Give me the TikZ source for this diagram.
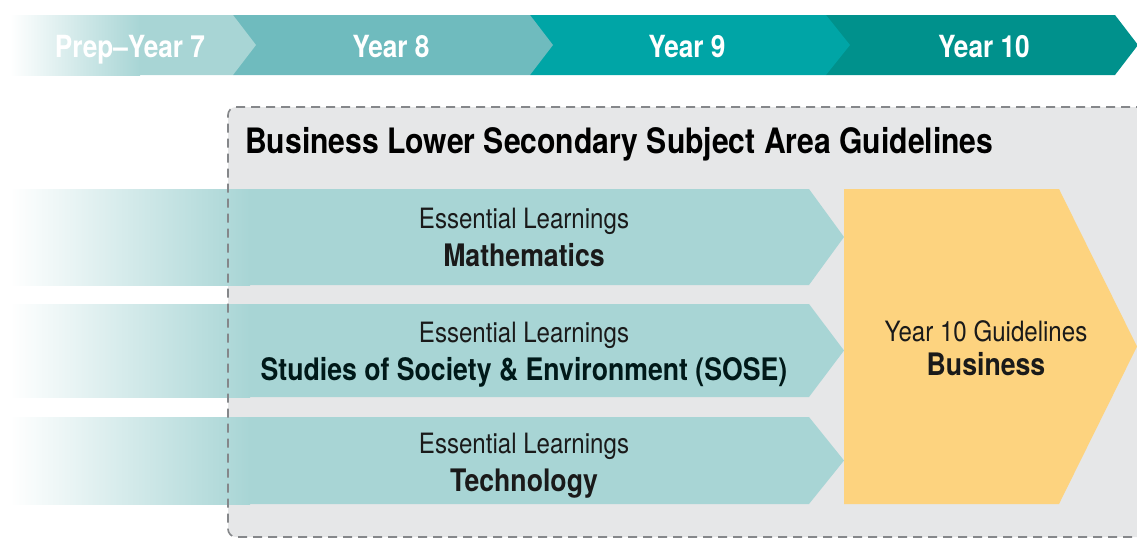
\documentclass[tikz,border=0pt]{standalone}
\usepackage{fontspec}
\setmainfont{TeX Gyre Heros}[FakeStretch=0.86]
\definecolor{tealA}{HTML}{A8D5D5}
\definecolor{tealB}{HTML}{6FBBBE}
\definecolor{tealC}{HTML}{00A5A6}
\definecolor{tealD}{HTML}{00918C}
\definecolor{boxgray}{HTML}{E6E7E8}
\definecolor{dashgray}{HTML}{85878A}
\definecolor{gold}{HTML}{FDD37F}
\definecolor{ink}{HTML}{1A1A1A}
\begin{document}
\begin{tikzpicture}[x=1pt,y=-1pt,
  hdr/.style={anchor=base,text=white,font=\fontsize{30.5}{36}\selectfont\bfseries,inner sep=0pt},
  eltext/.style={anchor=base,text=ink,font=\fontsize{28}{34}\selectfont,inner sep=0pt},
  subjtext/.style={anchor=base,text=ink,font=\fontsize{31}{36}\selectfont\bfseries,inner sep=0pt},
  titletext/.style={anchor=base west,text=black,font=\fontsize{35}{40}\selectfont\bfseries,inner sep=0pt},
  fadebar/.style={left color=white,right color=tealA},
]
\useasboundingbox (0,0) rectangle (1137,539);

% timeline band, drawn from the right so each chevron overlaps the next one
\fill[tealD] (826,15) -- (1115,15) -- (1138,45) -- (1115,75) -- (826,75) -- cycle;
\fill[tealC] (530,15) -- (826,15) -- (850,45) -- (826,75) -- (530,75) -- cycle;
\fill[tealB] (233,15) -- (530,15) -- (553,45) -- (530,75) -- (233,75) -- cycle;
\shade[fadebar] (10,15) rectangle (140,75);
\fill[tealA] (139.5,15) -- (233,15) -- (256,45) -- (233,75) -- (139.5,75) -- cycle;

\node[hdr] (prep) at (130,57) {Prep–Year 7};
\node[hdr] (y8)   at (391,57) {Year 8};
\node[hdr] (y9)   at (687,57) {Year 9};
\node[hdr] (y10)  at (984,57) {Year 10};

% grey guideline panel
\fill[boxgray, rounded corners=8pt] (1160,107) -- (228,107) -- (228,537) -- (1160,537) -- cycle;

\node[titletext] (title) at (245,153) {Business Lower Secondary Subject Area Guidelines};

% essential learnings bands
\foreach \t/\b/\m in {189/285/237, 304/397/350.5, 417/504/460.5}{
  \shade[fadebar] (10,\t) rectangle (250,\b);
  \fill[tealA] (249.5,\t) -- (809,\t) -- (844,\m) -- (809,\b) -- (249.5,\b) -- cycle;
}

% dashed outline of the panel, over the bands
\draw[dashgray, line width=1.6pt, dash pattern=on 9pt off 6pt, rounded corners=8pt]
  (1160,107) -- (228,107) -- (228,537) -- (1160,537);

% year 10 block
\fill[gold] (844,189) -- (1059,189) -- (1137,346.5) -- (1059,504) -- (844,504) -- cycle;

\node[eltext]   (el1) at (524,228) {Essential Learnings};
\node[subjtext] (math) at (524,266) {Mathematics};
\node[eltext]   (el2) at (524,342) {Essential Learnings};
\node[subjtext,text=black!80!teal] (sose) at (524,380) {Studies of Society \& Environment (SOSE)};
\node[eltext]   (el3) at (524,453) {Essential Learnings};
\node[subjtext] (tech) at (524,491) {Technology};

\node[eltext]   (guide) at (986,341) {Year 10 Guidelines};
\node[subjtext] (bus)   at (986,375) {Business};
\end{tikzpicture}
\end{document}
